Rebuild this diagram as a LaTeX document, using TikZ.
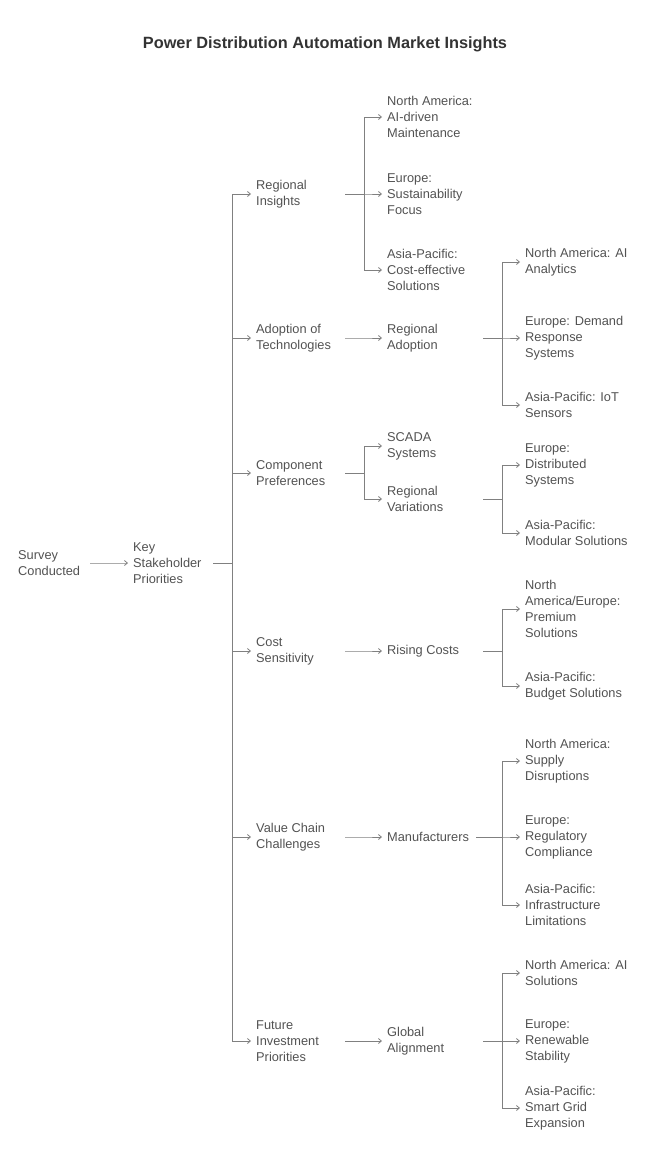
\documentclass[tikz,border=0pt]{standalone}
\usepackage{fontspec}
\setmainfont{Liberation Sans}
\usetikzlibrary{arrows.meta}
\begin{document}
\begin{tikzpicture}[x=1pt,y=-1pt,
  t/.style={anchor=west,align=left,inner sep=0pt,text=black!68,font=\fontsize{12.8}{16}\selectfont},
  ln/.style={draw=black!50,line width=0.8pt,-{Straight Barb[length=3pt,width=5pt]}}]
\useasboundingbox (0,0) rectangle (650,1166);
\node[font=\bfseries\fontsize{16.3}{19}\selectfont,text=black!80] (title) at (325,44) {Power Distribution Automation Market Insights};
\newcommand\br[4]{\draw[ln] ([xshift=#2]#1.west) -- ++(#3,0) |- ([xshift=-5pt]#4.west);}
\node[t] (s) at (18,563) {Survey\\Conducted};
\node[t] (k) at (133,563) {Key\\Stakeholder\\Priorities};
\node[t] (ri) at (256,194) {Regional\\Insights};
\node[t] (at) at (256,338) {Adoption of\\Technologies};
\node[t] (cp) at (256,473) {Component\\Preferences};
\node[t] (cs) at (256,651) {Cost\\Sensitivity};
\node[t] (vc) at (256,837) {Value Chain\\Challenges};
\node[t] (fi) at (256,1041) {Future\\Investment\\Priorities};
\node[t] (ri1) at (387,117) {North America:\\AI-driven\\Maintenance};
\node[t] (ri2) at (387,194) {Europe:\\Sustainability\\Focus};
\node[t] (ri3) at (387,270) {Asia-Pacific:\\Cost-effective\\Solutions};
\node[t] (ra) at (387,338) {Regional\\Adoption};
\node[t] (ra1) at (525,262) {North America: AI\\Analytics};
\node[t] (ra2) at (525,338) {Europe: Demand\\Response\\Systems};
\node[t] (ra3) at (525,405) {Asia-Pacific: IoT\\Sensors};
\node[t] (sc) at (387,446) {SCADA\\Systems};
\node[t] (rv) at (387,499) {Regional\\Variations};
\node[t] (rv1) at (525,465) {Europe:\\Distributed\\Systems};
\node[t] (rv2) at (525,533) {Asia-Pacific:\\Modular Solutions};
\node[t] (rc) at (387,651) {Rising Costs};
\node[t] (rc1) at (525,609) {North\\America/Europe:\\Premium\\Solutions};
\node[t] (rc2) at (525,686) {Asia-Pacific:\\Budget Solutions};
\node[t] (mf) at (387,837) {Manufacturers};
\node[t] (mf1) at (525,761) {North America:\\Supply\\Disruptions};
\node[t] (mf2) at (525,837) {Europe:\\Regulatory\\Compliance};
\node[t] (mf3) at (525,905) {Asia-Pacific:\\Infrastructure\\Limitations};
\node[t] (ga) at (387,1041) {Global\\Alignment};
\node[t] (ga1) at (525,973) {North America: AI\\Solutions};
\node[t] (ga2) at (525,1041) {Europe:\\Renewable\\Stability};
\node[t] (ga3) at (525,1108) {Asia-Pacific:\\Smart Grid\\Expansion};
\br{s}{72pt}{37}{k}
\foreach \c in {ri,at,cp,cs,vc,fi}{\br{k}{80pt}{19}{\c}}
\foreach \c in {ri1,ri2,ri3}{\br{ri}{89pt}{19}{\c}}
\br{at}{89pt}{19}{ra}
\foreach \c in {sc,rv}{\br{cp}{89pt}{19}{\c}}
\br{cs}{89pt}{19}{rc}
\br{vc}{89pt}{19}{mf}
\br{fi}{89pt}{19}{ga}
\foreach \c in {ra1,ra2,ra3}{\br{ra}{96pt}{19}{\c}}
\foreach \c in {rv1,rv2}{\br{rv}{96pt}{19}{\c}}
\foreach \c in {rc1,rc2}{\br{rc}{96pt}{19}{\c}}
\foreach \c in {mf1,mf2,mf3}{\br{mf}{89pt}{26}{\c}}
\foreach \c in {ga1,ga2,ga3}{\br{ga}{96pt}{19}{\c}}
\end{tikzpicture}
\end{document}
